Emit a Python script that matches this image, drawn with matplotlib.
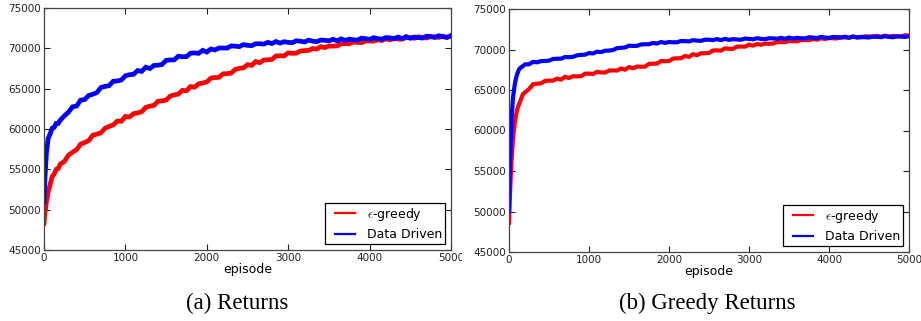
import matplotlib
matplotlib.use("Agg")
import matplotlib.pyplot as plt
from matplotlib.lines import Line2D
from matplotlib.legend_handler import HandlerLine2D
from matplotlib.transforms import Bbox, TransformedBbox

plt.rcParams["mathtext.fontset"] = "cm"

# Episode grid at which the learning curves were logged
episode = [0, 10, 20, 30, 40, 50, 75, 100, 125, 150, 175] + list(range(200, 5001, 50))

# (a) Returns
returns_eps = [
    48300, 49600, 50200, 51100, 51500, 52200, 53100, 54100, 54400, 55000, 55100,
    55660, 55970, 56750, 57120, 57440, 58130, 58330, 58580, 59240, 59360, 59540,
    60090, 60330, 60500, 60980, 60960, 61560, 61490, 61900, 62000, 62140, 62680,
    62830, 62930, 63440, 63480, 63590, 64070, 64230, 64330, 64780, 64740, 65260,
    65190, 65600, 65700, 65840, 66310, 66380, 66410, 66840, 66860, 66940, 67390,
    67530, 67580, 67980, 67890, 68360, 68220, 68550, 68570, 68640, 69050, 69080,
    69060, 69440, 69380, 69400, 69660, 69720, 69740, 69980, 69910, 70200, 70100,
    70280, 70280, 70300, 70560, 70570, 70560, 70790, 70730, 70700, 70910, 70920,
    70890, 71080, 70960, 71200, 71050, 71200, 71150, 71130, 71340, 71320, 71250,
    71430, 71340, 71280, 71450, 71420, 71350, 71500, 71340, 71550,
]
returns_data = [
    51000, 53600, 55400, 57100, 57900, 58800, 59400, 60100, 60200, 60700, 60700,
    61100, 61630, 62080, 62750, 62840, 63580, 63650, 64160, 64310, 64520, 65150,
    65280, 65370, 65920, 65950, 66070, 66600, 66730, 66780, 67250, 67140, 67660,
    67500, 67880, 67910, 68000, 68500, 68560, 68570, 69020, 68960, 68970, 69400,
    69430, 69380, 69750, 69540, 69920, 69800, 70040, 70040, 70030, 70300, 70270,
    70210, 70460, 70370, 70330, 70570, 70570, 70520, 70750, 70590, 70840, 70650,
    70820, 70740, 70700, 70940, 70880, 70790, 71010, 70890, 70820, 71030, 71000,
    70920, 71120, 70930, 71180, 70980, 71140, 71060, 71020, 71260, 71200, 71110,
    71320, 71200, 71130, 71330, 71300, 71210, 71400, 71210, 71450, 71250, 71400,
    71320, 71280, 71510, 71450, 71350, 71560, 71440, 71370, 71570,
]

# (b) Greedy Returns
greedy_eps = [
    48600, 51600, 53900, 56100, 57500, 59100, 61200, 62540, 63240, 63880, 64500,
    64720, 65110, 65710, 65770, 65830, 66120, 66170, 66150, 66400, 66290, 66620,
    66480, 66700, 66680, 66700, 67010, 67020, 66980, 67240, 67170, 67150, 67400,
    67420, 67400, 67650, 67510, 67820, 67680, 67900, 67870, 67880, 68220, 68250,
    68260, 68580, 68550, 68580, 68870, 68920, 68920, 69200, 69090, 69420, 69300,
    69540, 69540, 69580, 69880, 69890, 69860, 70140, 70090, 70080, 70350, 70370,
    70350, 70600, 70480, 70670, 70590, 70720, 70710, 70730, 70910, 70910, 70900,
    71070, 71020, 71010, 71160, 71170, 71150, 71300, 71210, 71390, 71300, 71420,
    71380, 71370, 71520, 71490, 71450, 71590, 71520, 71490, 71620, 71610, 71560,
    71680, 71560, 71710, 71590, 71680, 71630, 71610, 71750, 71710,
]
greedy_data = [
    50000, 55100, 58400, 61100, 62700, 64100, 65900, 66930, 67540, 67810, 67950,
    68160, 68180, 68470, 68420, 68570, 68580, 68630, 68830, 68860, 68870, 69070,
    69060, 69090, 69280, 69330, 69360, 69560, 69510, 69730, 69680, 69850, 69870,
    69930, 70160, 70210, 70250, 70470, 70440, 70450, 70620, 70650, 70650, 70810,
    70730, 70920, 70820, 70920, 70890, 70890, 71050, 71030, 71000, 71150, 71090,
    71070, 71210, 71210, 71160, 71280, 71160, 71310, 71190, 71280, 71230, 71210,
    71350, 71310, 71260, 71390, 71310, 71270, 71390, 71370, 71320, 71440, 71320,
    71470, 71350, 71440, 71390, 71370, 71510, 71470, 71420, 71550, 71470, 71430,
    71550, 71520, 71470, 71580, 71460, 71600, 71480, 71560, 71510, 71480, 71620,
    71570, 71520, 71640, 71560, 71510, 71630, 71600, 71550, 71660,
]

panels = [
    ("(a) Returns", returns_eps, returns_data, 3.4),
    ("(b) Greedy Returns", greedy_eps, greedy_data, 3.0),
]
series_labels = [r"$\epsilon$-greedy", "Data Driven"]
series_colors = ["#ff0000", "#0000ff"]
x_ticks = [0, 1000, 2000, 3000, 4000, 5000]
y_ticks = [45000, 50000, 55000, 60000, 65000, 70000, 75000]

W, H = 921, 321
fig = plt.figure(figsize=(W / 100, H / 100), dpi=100)
fig.patch.set_facecolor("white")

# axes rectangles in pixels: left, top, right, bottom
rects = [(44, 8, 451, 250), (509, 9, 909, 252)]
caption_x = [237, 707]

axes = []
for (caption, eps_vals, data_vals, lw), (l, t, r, b), cx in zip(panels, rects, caption_x):
    ax = fig.add_axes([l / W, 1 - b / H, (r - l) / W, (b - t) / H])
    ax.plot(episode, eps_vals, color=series_colors[0], lw=lw,
            solid_joinstyle="miter", label=series_labels[0])
    ax.plot(episode, data_vals, color=series_colors[1], lw=lw,
            solid_joinstyle="miter", label=series_labels[1])
    ax.set_xlim(0, 5000)
    ax.set_ylim(45000, 75000)
    ax.set_xticks(x_ticks)
    ax.set_yticks(y_ticks)
    ax.tick_params(direction="in", length=4, width=0.8, top=True, right=True,
                   labelsize=7.5, pad=2, colors="#222222")
    for sp in ax.spines.values():
        sp.set_color("#444444")
        sp.set_linewidth(0.9)
    ax.set_xlabel("episode", fontsize=9, labelpad=0)
    leg = ax.legend(loc="lower right", fontsize=9, fancybox=False, framealpha=1,
                    edgecolor="black", handlelength=2.1, handletextpad=1.0,
                    borderaxespad=0.45, labelspacing=0.45, borderpad=0.25,
                    handler_map={Line2D: HandlerLine2D(xpad=0.5)})
    leg.get_frame().set_linewidth(0.9)
    for h in leg.get_lines():
        h.set_linewidth(1.6)
    fig.text(cx / W, 1 - 303 / H, caption, ha="center", va="center",
             family="Liberation Serif", fontsize=16.5)
    axes.append(ax)

# the left panel's last tick label is cut off where the right panel begins
clip = TransformedBbox(Bbox([[0, 0], [462 / W, 1]]), fig.transFigure)
for lab in axes[0].get_xticklabels():
    lab.set_clip_box(clip)
    lab.set_clip_on(True)

fig.savefig("out.png", dpi=100, facecolor="white")
